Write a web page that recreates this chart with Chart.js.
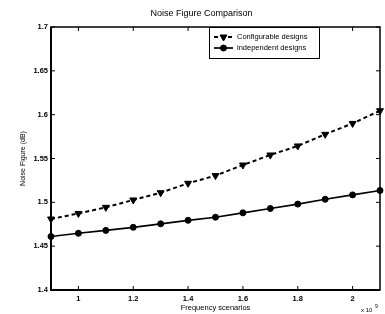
<!DOCTYPE html>
<html>
<head>
<meta charset="utf-8">
<script src="https://cdn.jsdelivr.net/npm/chart.js@4.4.1/dist/chart.umd.min.js"></script>
<style>
  body { margin: 0; background: #fff; }
  #wrap { width: 385px; height: 314px; }
</style>
</head>
<body>
<div id="wrap"><canvas id="myChart" width="385" height="314"></canvas></div>
<script>
// frequency scenarios (x 10^9)
const freqs = [0.9, 1.0, 1.1, 1.2, 1.3, 1.4, 1.5, 1.6, 1.7, 1.8, 1.9, 2.0, 2.1];
const configurable = [1.481, 1.4873, 1.4943, 1.5027, 1.511, 1.5217, 1.5305, 1.5426, 1.554, 1.5643, 1.5776, 1.590, 1.6045];
const independent = [1.461, 1.4647, 1.468, 1.4715, 1.4755, 1.4795, 1.483, 1.488, 1.493, 1.498, 1.5035, 1.5085, 1.5135];
const xTicks = [1, 1.2, 1.4, 1.6, 1.8, 2];
const yTicks = [1.4, 1.45, 1.5, 1.55, 1.6, 1.65, 1.7];
const seriesLabels = ['Configurable designs', 'independent designs'];

const FONT = 'Liberation Sans, Arial, sans-serif';

// MATLAB-like box with inward ticks, legend box and exponent label
const boxPlugin = {
    id: 'matlabBox',
    afterDraw(chart) {
        const ctx = chart.ctx;
        const a = chart.chartArea;
        const xs = chart.scales.x, ys = chart.scales.y;
        ctx.save();
        ctx.strokeStyle = '#000';
        ctx.lineWidth = 1.5;
        ctx.strokeRect(a.left, a.top, a.right - a.left, a.bottom - a.top);
        ctx.lineWidth = 2;
        ctx.beginPath();
        ctx.moveTo(a.left, a.top);
        ctx.lineTo(a.left, a.bottom);
        ctx.lineTo(a.right, a.bottom);
        ctx.stroke();

        ctx.lineWidth = 1;
        const t = 4;
        ctx.beginPath();
        xTicks.forEach(v => {
            const px = xs.getPixelForValue(v);
            ctx.moveTo(px, a.bottom); ctx.lineTo(px, a.bottom - t);
            ctx.moveTo(px, a.top); ctx.lineTo(px, a.top + t);
        });
        yTicks.forEach(v => {
            const py = ys.getPixelForValue(v);
            ctx.moveTo(a.left, py); ctx.lineTo(a.left + t, py);
            ctx.moveTo(a.right, py); ctx.lineTo(a.right - t, py);
        });
        ctx.stroke();

        // legend
        const lx = 209, ly = 27, lw = 110, lh = 31;
        ctx.fillStyle = '#fff';
        ctx.fillRect(lx, ly, lw, lh);
        ctx.lineWidth = 1;
        ctx.strokeRect(lx + 0.5, ly + 0.5, lw, lh);
        chart.data.datasets.forEach((ds, i) => {
            const y = ly + 10 + i * 11;
            ctx.save();
            ctx.lineWidth = ds.borderWidth;
            ctx.setLineDash(ds.borderDash || []);
            ctx.beginPath();
            ctx.moveTo(lx + 5, y);
            ctx.lineTo(lx + 24, y);
            ctx.stroke();
            ctx.restore();
            ctx.fillStyle = '#000';
            ctx.strokeStyle = '#000';
            Chart.helpers.drawPoint(ctx, {
                pointStyle: ds.pointStyle,
                rotation: ds.pointRotation || 0,
                radius: ds.pointRadius,
                borderWidth: 1
            }, lx + 14.5, y);
            ctx.fillStyle = '#000';
            ctx.font = '7.5px ' + FONT;
            ctx.textBaseline = 'middle';
            ctx.textAlign = 'left';
            ctx.fillText(ds.label, lx + 28, y);
        });

        // exponent
        ctx.fillStyle = '#000';
        ctx.font = '6px ' + FONT;
        ctx.textAlign = 'left';
        ctx.textBaseline = 'alphabetic';
        ctx.fillText('x 10', 361, 312);
        ctx.font = '5px ' + FONT;
        ctx.fillText('9', 375, 308);
        ctx.restore();
    }
};

(function () {
    const ctx = document.querySelector('#myChart');
    new Chart(ctx, {
        type: 'line',
        data: {
            datasets: [{
                label: seriesLabels[0],
                data: freqs.map((f, i) => ({ x: f, y: configurable[i] })),
                borderColor: '#000',
                backgroundColor: '#000',
                borderWidth: 2,
                borderDash: [4, 3],
                pointStyle: 'triangle',
                pointRotation: 180,
                pointRadius: 4,
                pointBorderWidth: 1,
                fill: false,
                tension: 0
            }, {
                label: seriesLabels[1],
                data: freqs.map((f, i) => ({ x: f, y: independent[i] })),
                borderColor: '#000',
                backgroundColor: '#000',
                borderWidth: 1.7,
                pointStyle: 'circle',
                pointRadius: 3,
                pointBorderWidth: 1,
                fill: false,
                tension: 0
            }]
        },
        options: {
            responsive: false,
            animation: false,
            clip: false,
            layout: { padding: { right: 1, left: 19, top: 0, bottom: 0 } },
            plugins: {
                legend: { display: false },
                tooltip: { enabled: false },
                title: {
                    display: true,
                    text: 'Noise Figure Comparison',
                    color: '#000',
                    font: { family: FONT, size: 9, weight: 'normal', lineHeight: 1.2 },
                    padding: { top: 8.5, bottom: 7.7 }
                }
            },
            scales: {
                x: {
                    type: 'linear',
                    min: 0.9,
                    max: 2.1,
                    afterBuildTicks(s) { s.ticks = xTicks.map(v => ({ value: v })); },
                    afterFit(s) { s.height = 24; },
                    grid: { display: false, drawTicks: false },
                    border: { display: false },
                    ticks: {
                        color: '#000',
                        padding: 4,
                        maxRotation: 0,
                        font: { family: FONT, size: 7.5, weight: 'bold' },
                        callback: v => String(v)
                    },
                    title: {
                        display: true,
                        text: 'Frequency scenarios',
                        color: '#000',
                        font: { family: FONT, size: 7.5 },
                        padding: { top: 0, bottom: 2 }
                    }
                },
                y: {
                    min: 1.4,
                    max: 1.7,
                    afterBuildTicks(s) { s.ticks = yTicks.map(v => ({ value: v })); },
                    afterFit(s) { s.width = 32; },
                    grid: { display: false, drawTicks: false },
                    border: { display: false },
                    ticks: {
                        color: '#000',
                        padding: 3,
                        font: { family: FONT, size: 7.5, weight: 'bold' },
                        callback: v => String(v)
                    },
                    title: {
                        display: true,
                        text: 'Noise Figure (dB)',
                        color: '#000',
                        font: { family: FONT, size: 7 },
                        padding: { top: 0, bottom: 0 }
                    }
                }
            }
        },
        plugins: [boxPlugin]
    });
})();
</script>
</body>
</html>
